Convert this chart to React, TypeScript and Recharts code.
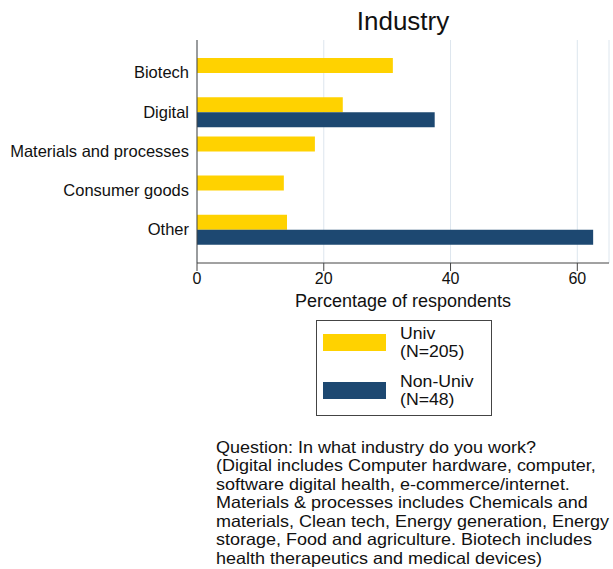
import React from 'react';
import {
  BarChart,
  Bar,
  XAxis,
  YAxis,
  CartesianGrid,
} from 'recharts';

const categories = ['Biotech', 'Digital', 'Materials and processes', 'Consumer goods', 'Other'];
const univ = [30.9, 23.0, 18.6, 13.7, 14.2];
const nonUniv = [0, 37.5, 0, 0, 62.5];
const xTicks = [0, 20, 40, 60];

const seriesNames = ['Univ', 'Non-Univ'];
const seriesNotes = ['(N=205)', '(N=48)'];
const seriesColors = ['#FFD200', '#1D4871'];

const noteLines = [
  'Question: In what industry do you work?',
  '(Digital includes Computer hardware, computer,',
  'software digital health, e-commerce/internet.',
  'Materials & processes includes Chemicals and',
  'materials, Clean tech, Energy generation, Energy',
  'storage, Food and agriculture. Biotech includes',
  'health therapeutics and medical devices)',
];

const data = categories.map((name, i) => ({ name, univ: univ[i], nonUniv: nonUniv[i] }));

const font = '"Liberation Sans", Arial, Helvetica, sans-serif';

export default function App() {
  return (
    <div
      style={{
        position: 'absolute',
        left: 0,
        top: 0,
        width: 613,
        height: 569,
        background: '#fff',
        fontFamily: font,
        color: '#111',
      }}
    >
      <div
        style={{
          position: 'absolute',
          left: 197,
          width: 412,
          top: 6,
          textAlign: 'center',
          fontSize: 26,
        }}
      >
        Industry
      </div>
      <BarChart
        width={613}
        height={330}
        data={data}
        layout="vertical"
        margin={{ top: 40, right: 4, bottom: 37, left: 0 }}
        barCategoryGap={5}
        barGap={0}
        style={{ fontFamily: font }}
      >
        <CartesianGrid horizontal={false} stroke="#dde6ee" strokeWidth={1} />
        <XAxis
          type="number"
          domain={[0, 65]}
          ticks={xTicks}
          height={30}
          stroke="#444"
          tickSize={8}
          tickMargin={2}
          tick={{ fill: '#111', fontSize: 16 }}
          label={{ value: 'Percentage of respondents', position: 'bottom', offset: 1, fill: '#111', fontSize: 18 }}
        />
        <YAxis
          type="category"
          dataKey="name"
          width={197}
          stroke="#444"
          tickLine={false}
          tickMargin={2}
          padding={{ top: 13, bottom: 14 }}
          tick={{ fill: '#111', fontSize: 16.5 }}
        />
        <Bar dataKey="univ" name="Univ" fill={seriesColors[0]} isAnimationActive={false} />
        <Bar dataKey="nonUniv" name="Non-Univ" fill={seriesColors[1]} isAnimationActive={false} />
      </BarChart>
      <div
        style={{
          position: 'absolute',
          left: 316,
          top: 320,
          width: 176,
          height: 96,
          border: '1px solid #444',
          boxSizing: 'border-box',
          fontSize: 16.5,
          lineHeight: '18.5px',
        }}
      >
        {seriesNames.map((s, i) => (
          <div
            key={s}
            style={{ position: 'absolute', left: 6, top: 2.5 + i * 48, display: 'flex', alignItems: 'center' }}
          >
            <div style={{ width: 63, height: 17, background: seriesColors[i] }} />
            <div style={{ marginLeft: 14, transform: 'scaleX(1.07)', transformOrigin: 'left center', whiteSpace: 'nowrap' }}>
              <div>{s}</div>
              <div>{seriesNotes[i]}</div>
            </div>
          </div>
        ))}
      </div>
      <div
        style={{
          position: 'absolute',
          left: 216,
          top: 437.8,
          fontSize: 16.5,
          lineHeight: '18.5px',
          whiteSpace: 'nowrap',
          transform: 'scaleX(1.09)',
          transformOrigin: 'left top',
        }}
      >
        {noteLines.map((l) => (
          <div key={l}>{l}</div>
        ))}
      </div>
    </div>
  );
}
